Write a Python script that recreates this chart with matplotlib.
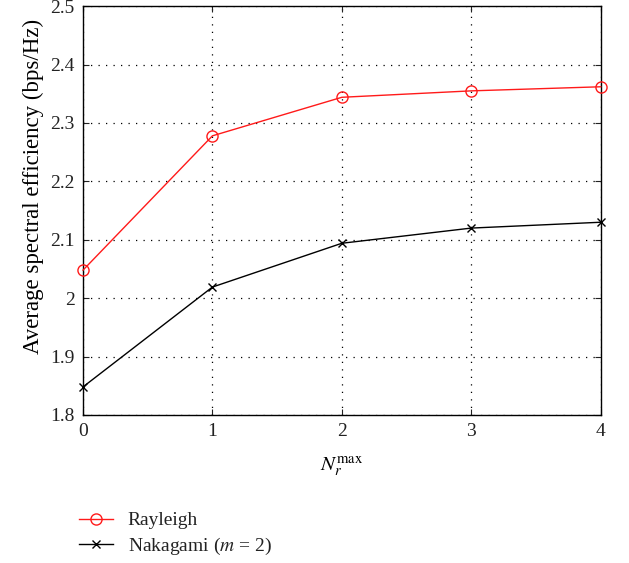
import matplotlib as mpl
import matplotlib.pyplot as plt

# values
n_r_max = [0, 1, 2, 3, 4]
rayleigh = [2.048, 2.278, 2.344, 2.355, 2.362]
nakagami = [1.848, 2.019, 2.094, 2.120, 2.130]
y_ticks = [1.8, 1.9, 2.0, 2.1, 2.2, 2.3, 2.4, 2.5]
y_tick_labels = ["1.8", "1.9", "2", "2.1", "2.2", "2.3", "2.4", "2.5"]

mpl.rcParams.update({
    "font.family": "serif",
    "font.serif": ["Liberation Serif", "DejaVu Serif"],
    "mathtext.fontset": "stix",
    "text.color": "#222222",
    "xtick.color": "#222222",
    "ytick.color": "#222222",
})

fig = plt.figure(figsize=(6.29, 5.63), dpi=100)
ax = fig.add_axes([0.132, 0.263, 0.823, 0.726])

l1, = ax.plot(n_r_max, rayleigh, color="#ff1a1a", linewidth=1.0, marker="o",
              markersize=8, markerfacecolor="none", markeredgewidth=1.0,
              clip_on=False, zorder=3)
l2, = ax.plot(n_r_max, nakagami, color="black", linewidth=1.0, marker="x",
              markersize=6, markeredgewidth=1.0, clip_on=False, zorder=3)

ax.set_xlim(0, 4)
ax.set_ylim(1.8, 2.5)
ax.set_xticks(n_r_max)
ax.set_yticks(y_ticks)
ax.set_yticklabels(y_tick_labels)
ax.tick_params(direction="in", length=4, labelsize=14, top=True, right=True,
               pad=6)
ax.grid(True, color="black", linestyle=(0, (1, 5)), linewidth=0.9)
for s in ax.spines.values():
    s.set_linewidth(1.0)

ax.set_xlabel(r"$N_r^{\mathrm{max}}$", fontsize=15, labelpad=10)
ax.set_ylabel("Average spectral efficiency (bps/Hz)", fontsize=16.5)
ax.yaxis.set_label_coords(-0.076, 0.56)

fig.legend([l1, l2], ["Rayleigh", r"Nakagami ($m$ = 2)"],
           loc="upper left", bbox_to_anchor=(0.126, 0.091), frameon=False,
           fontsize=14, handlelength=1.75, handletextpad=0.75,
           labelspacing=0.35, borderaxespad=0, borderpad=0)

fig.savefig("out.png", dpi=100)
